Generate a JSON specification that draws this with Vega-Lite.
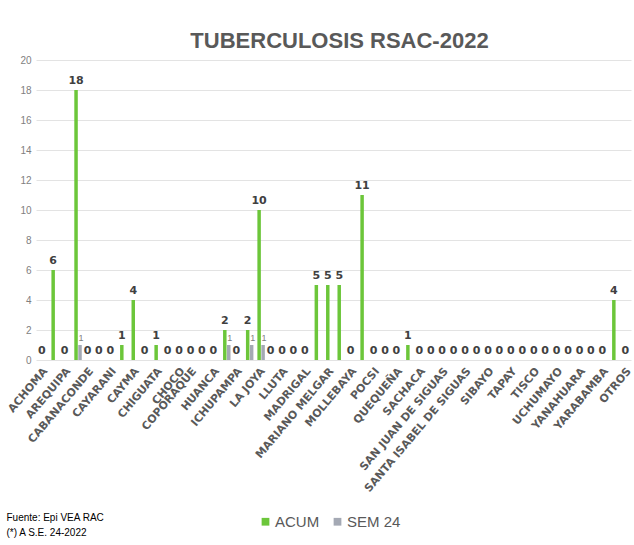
{
  "$schema": "https://vega.github.io/schema/vega-lite/v6.json",
  "width": 595,
  "height": 300,
  "autosize": {"type": "none"},
  "padding": {"left": 36, "top": 60, "right": 3, "bottom": 185},
  "background": "white",
  "title": {
    "text": "TUBERCULOSIS RSAC-2022",
    "font": "Liberation Sans Narrow, Arial Narrow, Liberation Sans, sans-serif",
    "fontSize": 22,
    "fontWeight": "bold",
    "color": "#595959",
    "anchor": "middle",
    "offset": 2,
    "dx": 6
  },
  "config": {
    "view": {"stroke": null},
    "axis": {"labelFont": "DejaVu Sans", "titleFont": "Liberation Sans Narrow"}
  },
  "data": {
    "values": [
      {"name": "ACHOMA", "serie": "ACUM", "value": 0}, {"name": "ACHOMA", "serie": "SEM 24", "value": 0},
      {"name": "ALTO SELVA ALEGRE", "serie": "ACUM", "value": 6}, {"name": "ALTO SELVA ALEGRE", "serie": "SEM 24", "value": 0},
      {"name": "AREQUIPA", "serie": "ACUM", "value": 0}, {"name": "AREQUIPA", "serie": "SEM 24", "value": 0},
      {"name": "C. COLORADO", "serie": "ACUM", "value": 18}, {"name": "C. COLORADO", "serie": "SEM 24", "value": 1},
      {"name": "CABANACONDE", "serie": "ACUM", "value": 0}, {"name": "CABANACONDE", "serie": "SEM 24", "value": 0},
      {"name": "CALLALLI", "serie": "ACUM", "value": 0}, {"name": "CALLALLI", "serie": "SEM 24", "value": 0},
      {"name": "CAYARANI", "serie": "ACUM", "value": 0}, {"name": "CAYARANI", "serie": "SEM 24", "value": 0},
      {"name": "CAYLLOMA", "serie": "ACUM", "value": 1}, {"name": "CAYLLOMA", "serie": "SEM 24", "value": 0},
      {"name": "CAYMA", "serie": "ACUM", "value": 4}, {"name": "CAYMA", "serie": "SEM 24", "value": 0},
      {"name": "CHARACATO", "serie": "ACUM", "value": 0}, {"name": "CHARACATO", "serie": "SEM 24", "value": 0},
      {"name": "CHIGUATA", "serie": "ACUM", "value": 1}, {"name": "CHIGUATA", "serie": "SEM 24", "value": 0},
      {"name": "CHIVAY", "serie": "ACUM", "value": 0}, {"name": "CHIVAY", "serie": "SEM 24", "value": 0},
      {"name": "CHOCO", "serie": "ACUM", "value": 0}, {"name": "CHOCO", "serie": "SEM 24", "value": 0},
      {"name": "CHUQUIBAMBA", "serie": "ACUM", "value": null}, {"name": "CHUQUIBAMBA", "serie": "SEM 24", "value": null},
      {"name": "COPORAQUE", "serie": "ACUM", "value": 0}, {"name": "COPORAQUE", "serie": "SEM 24", "value": 0},
      {"name": "HUAMBO", "serie": "ACUM", "value": 0}, {"name": "HUAMBO", "serie": "SEM 24", "value": 0},
      {"name": "HUANCA", "serie": "ACUM", "value": 0}, {"name": "HUANCA", "serie": "SEM 24", "value": 0},
      {"name": "HUNTER", "serie": "ACUM", "value": 2}, {"name": "HUNTER", "serie": "SEM 24", "value": 1},
      {"name": "ICHUPAMPA", "serie": "ACUM", "value": 0}, {"name": "ICHUPAMPA", "serie": "SEM 24", "value": 0},
      {"name": "J.L.B. Y RIVERO", "serie": "ACUM", "value": 2}, {"name": "J.L.B. Y RIVERO", "serie": "SEM 24", "value": 1},
      {"name": "LA JOYA", "serie": "ACUM", "value": 10}, {"name": "LA JOYA", "serie": "SEM 24", "value": 1},
      {"name": "LARI", "serie": "ACUM", "value": 0}, {"name": "LARI", "serie": "SEM 24", "value": 0},
      {"name": "LLUTA", "serie": "ACUM", "value": 0}, {"name": "LLUTA", "serie": "SEM 24", "value": 0},
      {"name": "MACA", "serie": "ACUM", "value": 0}, {"name": "MACA", "serie": "SEM 24", "value": 0},
      {"name": "MADRIGAL", "serie": "ACUM", "value": 0}, {"name": "MADRIGAL", "serie": "SEM 24", "value": 0},
      {"name": "MAJES", "serie": "ACUM", "value": 5}, {"name": "MAJES", "serie": "SEM 24", "value": 0},
      {"name": "MARIANO MELGAR", "serie": "ACUM", "value": 5}, {"name": "MARIANO MELGAR", "serie": "SEM 24", "value": 0},
      {"name": "MIRAFLORES", "serie": "ACUM", "value": 5}, {"name": "MIRAFLORES", "serie": "SEM 24", "value": 0},
      {"name": "MOLLEBAYA", "serie": "ACUM", "value": 0}, {"name": "MOLLEBAYA", "serie": "SEM 24", "value": 0},
      {"name": "PAUCARPATA", "serie": "ACUM", "value": 11}, {"name": "PAUCARPATA", "serie": "SEM 24", "value": 0},
      {"name": "POCSI", "serie": "ACUM", "value": 0}, {"name": "POCSI", "serie": "SEM 24", "value": 0},
      {"name": "POLOBAYA", "serie": "ACUM", "value": 0}, {"name": "POLOBAYA", "serie": "SEM 24", "value": 0},
      {"name": "QUEQUEÑA", "serie": "ACUM", "value": 0}, {"name": "QUEQUEÑA", "serie": "SEM 24", "value": 0},
      {"name": "SABANDIA", "serie": "ACUM", "value": 1}, {"name": "SABANDIA", "serie": "SEM 24", "value": 0},
      {"name": "SACHACA", "serie": "ACUM", "value": 0}, {"name": "SACHACA", "serie": "SEM 24", "value": 0},
      {"name": "SAN ANTONIO DE CHUCA", "serie": "ACUM", "value": 0}, {"name": "SAN ANTONIO DE CHUCA", "serie": "SEM 24", "value": 0},
      {"name": "SAN JUAN DE SIGUAS", "serie": "ACUM", "value": 0}, {"name": "SAN JUAN DE SIGUAS", "serie": "SEM 24", "value": 0},
      {"name": "SAN JUAN DE TARUCANI", "serie": "ACUM", "value": 0}, {"name": "SAN JUAN DE TARUCANI", "serie": "SEM 24", "value": 0},
      {"name": "SANTA ISABEL DE SIGUAS", "serie": "ACUM", "value": 0}, {"name": "SANTA ISABEL DE SIGUAS", "serie": "SEM 24", "value": 0},
      {"name": "SANTA RITA DE SIGUAS", "serie": "ACUM", "value": 0}, {"name": "SANTA RITA DE SIGUAS", "serie": "SEM 24", "value": 0},
      {"name": "SIBAYO", "serie": "ACUM", "value": 0}, {"name": "SIBAYO", "serie": "SEM 24", "value": 0},
      {"name": "SOCABAYA", "serie": "ACUM", "value": 0}, {"name": "SOCABAYA", "serie": "SEM 24", "value": 0},
      {"name": "TAPAY", "serie": "ACUM", "value": 0}, {"name": "TAPAY", "serie": "SEM 24", "value": 0},
      {"name": "TIABAYA", "serie": "ACUM", "value": 0}, {"name": "TIABAYA", "serie": "SEM 24", "value": 0},
      {"name": "TISCO", "serie": "ACUM", "value": 0}, {"name": "TISCO", "serie": "SEM 24", "value": 0},
      {"name": "TUTI", "serie": "ACUM", "value": 0}, {"name": "TUTI", "serie": "SEM 24", "value": 0},
      {"name": "UCHUMAYO", "serie": "ACUM", "value": 0}, {"name": "UCHUMAYO", "serie": "SEM 24", "value": 0},
      {"name": "VITOR", "serie": "ACUM", "value": 0}, {"name": "VITOR", "serie": "SEM 24", "value": 0},
      {"name": "YANAHUARA", "serie": "ACUM", "value": 0}, {"name": "YANAHUARA", "serie": "SEM 24", "value": 0},
      {"name": "YANQUE", "serie": "ACUM", "value": 0}, {"name": "YANQUE", "serie": "SEM 24", "value": 0},
      {"name": "YARABAMBA", "serie": "ACUM", "value": 0}, {"name": "YARABAMBA", "serie": "SEM 24", "value": 0},
      {"name": "YURA", "serie": "ACUM", "value": 4}, {"name": "YURA", "serie": "SEM 24", "value": 0},
      {"name": "OTROS", "serie": "ACUM", "value": 0}, {"name": "OTROS", "serie": "SEM 24", "value": 0}
    ]
  },
  "encoding": {
    "x": {
      "field": "name",
      "type": "nominal",
      "sort": null,
      "scale": {"paddingInner": 0, "paddingOuter": 0},
      "axis": {
        "values": ["ACHOMA", "AREQUIPA", "CABANACONDE", "CAYARANI", "CAYMA", "CHIGUATA", "CHOCO", "COPORAQUE", "HUANCA", "ICHUPAMPA", "LA JOYA", "LLUTA", "MADRIGAL", "MARIANO MELGAR", "MOLLEBAYA", "POCSI", "QUEQUEÑA", "SACHACA", "SAN JUAN DE SIGUAS", "SANTA ISABEL DE SIGUAS", "SIBAYO", "TAPAY", "TISCO", "UCHUMAYO", "YANAHUARA", "YARABAMBA", "OTROS"],
        "labelAngle": -50,
        "labelFont": "DejaVu Sans",
        "labelFontWeight": "bold",
        "labelFontSize": 11,
        "labelColor": "#595959",
        "labelPadding": 9,
        "labelOffset": 4,
        "labelOverlap": false,
        "labelBound": false,
        "ticks": false,
        "domain": false,
        "grid": false,
        "title": ["Fuente:  Epi VEA RAC", "(*) A S.E. 24-2022"],
        "titleFont": "Liberation Sans Narrow, Arial Narrow, Liberation Sans, sans-serif",
        "titleFontSize": 10,
        "titleFontWeight": "normal",
        "titleColor": "#000000",
        "titleAnchor": "start",
        "titleAlign": "left",
        "titleBaseline": "top",
        "titleLineHeight": 15,
        "titleX": -30,
        "titleY": 152
      }
    },
    "xOffset": {
      "field": "serie",
      "type": "nominal",
      "scale": {"domain": ["_", "ACUM", "SEM 24"], "paddingInner": 0.12}
    },
    "y": {
      "field": "value",
      "type": "quantitative",
      "scale": {"domain": [0, 20], "nice": false},
      "axis": {
        "values": [0, 2, 4, 6, 8, 10, 12, 14, 16, 18, 20],
        "labelFont": "Liberation Sans Narrow, Arial Narrow, Liberation Sans, sans-serif",
        "labelFontSize": 10,
        "labelColor": "#7f7f7f",
        "labelPadding": 5,
        "ticks": false,
        "domain": false,
        "gridColor": "#e3e3e3",
        "gridWidth": 1,
        "title": null
      }
    }
  },
  "layer": [
    {
      "mark": {"type": "bar"},
      "encoding": {
        "color": {
          "field": "serie",
          "type": "nominal",
          "scale": {"domain": ["ACUM", "SEM 24"], "range": ["#6cc63a", "#a4a9b4"]},
          "legend": {
            "title": null,
            "orient": "none",
            "direction": "horizontal",
            "legendX": 222,
            "legendY": 454,
            "symbolType": "square",
            "symbolSize": 60,
            "symbolStrokeWidth": 0,
            "labelFont": "Liberation Sans Narrow, Arial Narrow, Liberation Sans, sans-serif",
            "labelFontSize": 15,
            "labelColor": "#595959",
            "labelOffset": 2,
            "columnPadding": 10
          }
        }
      }
    },
    {
      "transform": [{"filter": "datum.serie == 'ACUM' && isValid(datum.value)"}],
      "mark": {"type": "text", "baseline": "bottom", "dy": -4, "font": "DejaVu Sans", "fontWeight": "bold", "fontSize": 11, "color": "#404040"},
      "encoding": {"text": {"field": "value", "type": "quantitative"}}
    },
    {
      "transform": [{"filter": "datum.serie == 'SEM 24' && datum.value > 0"}],
      "mark": {"type": "text", "baseline": "bottom", "dy": -2, "dx": 1, "font": "Liberation Sans Narrow, Liberation Sans, sans-serif", "fontSize": 9, "color": "#7f7f7f"},
      "encoding": {"text": {"field": "value", "type": "quantitative"}}
    }
  ]
}
